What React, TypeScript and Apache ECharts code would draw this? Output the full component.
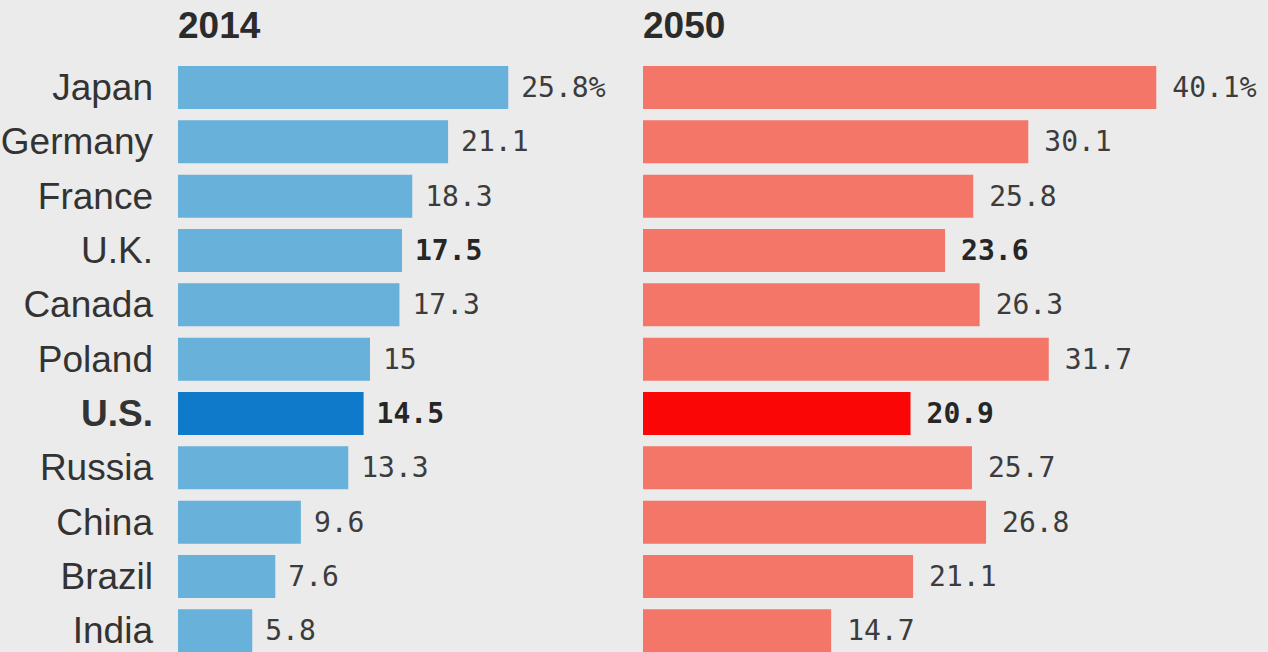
import React, { useEffect, useRef } from "react";
import * as echarts from "echarts";

const countries = ["Japan", "Germany", "France", "U.K.", "Canada", "Poland", "U.S.", "Russia", "China", "Brazil", "India"];
const values2014 = [25.8, 21.1, 18.3, 17.5, 17.3, 15, 14.5, 13.3, 9.6, 7.6, 5.8];
const values2050 = [40.1, 30.1, 25.8, 23.6, 26.3, 31.7, 20.9, 25.7, 26.8, 21.1, 14.7];
const panelTitles = ["2014", "2050"];
const boldValueRows = ["U.K.", "U.S."];
const highlightRow = "U.S.";

const BG = "#ebebeb";
const TEXT = "#333333";
const VALUE_TEXT = "#3c3c3c";

export default function App() {
  const ref = useRef<HTMLDivElement>(null);

  useEffect(() => {
    if (!ref.current) return;
    const chart = echarts.init(ref.current, undefined, { renderer: "svg" });

    const bandH = 54.33;
    const top = 60.33;
    const gridH = bandH * countries.length;
    const pxPerUnit = 12.8;
    const xMax = 45;
    const gridW = xMax * pxPerUnit;

    const makeData = (vals: number[], base: string, hi: string) =>
      vals.map((v, i) => {
        const c = countries[i];
        const bold = boldValueRows.includes(c);
        return {
          value: v,
          itemStyle: { color: c === highlightRow ? hi : base },
          label: { fontWeight: bold ? "bold" : "normal", color: bold ? "#262626" : VALUE_TEXT },
        };
      });

    const labelCfg = (distance: number) => ({
      show: true,
      position: "right",
      distance,
      fontFamily: "DejaVu Sans Mono",
      fontSize: 28,
      color: VALUE_TEXT,
      formatter: (p: any) => (p.dataIndex === 0 ? `${p.value}%` : `${p.value}`),
    });

    chart.setOption({
      animation: false,
      backgroundColor: BG,
      graphic: panelTitles.map((t, i) => ({
        type: "text",
        x: i === 0 ? 178 : 643,
        y: 25,
        style: {
          text: t,
          fontFamily: "Liberation Sans",
          fontWeight: "bold",
          fontSize: 37,
          fill: "#2b2b2b",
          verticalAlign: "middle",
          align: "left",
        },
      })),
      grid: [
        { left: 178, top, width: gridW, height: gridH, containLabel: false, outerBoundsMode: "none" },
        { left: 643, top, width: gridW, height: gridH, containLabel: false, outerBoundsMode: "none" },
      ],
      xAxis: [0, 1].map((g) => ({
        type: "value",
        gridIndex: g,
        min: 0,
        max: xMax,
        show: false,
      })),
      yAxis: [0, 1].map((g) => ({
        type: "category",
        gridIndex: g,
        inverse: true,
        data: countries.map((c) => ({
          value: c,
          textStyle: { fontWeight: c === highlightRow ? "bold" : "normal" },
        })),
        axisLine: { show: false },
        axisTick: { show: false },
        splitLine: { show: false },
        axisLabel: {
          show: g === 0,
          margin: 25,
          fontFamily: "Liberation Sans",
          fontSize: 37,
          color: TEXT,
        },
      })),
      series: [
        {
          type: "bar",
          xAxisIndex: 0,
          yAxisIndex: 0,
          barWidth: 43,
          data: makeData(values2014, "#67b1db", "#0f79ca"),
          label: labelCfg(13),
        },
        {
          type: "bar",
          xAxisIndex: 1,
          yAxisIndex: 1,
          barWidth: 43,
          data: makeData(values2050, "#f47668", "#fb0606"),
          label: labelCfg(16),
        },
      ],
    });

    return () => chart.dispose();
  }, []);

  return (
    <div
      style={{
        position: "fixed",
        left: 0,
        top: 0,
        width: 1268,
        height: 652,
        overflow: "hidden",
        background: BG,
      }}
    >
      <div ref={ref} style={{ width: 1268, height: 672 }} />
    </div>
  );
}
